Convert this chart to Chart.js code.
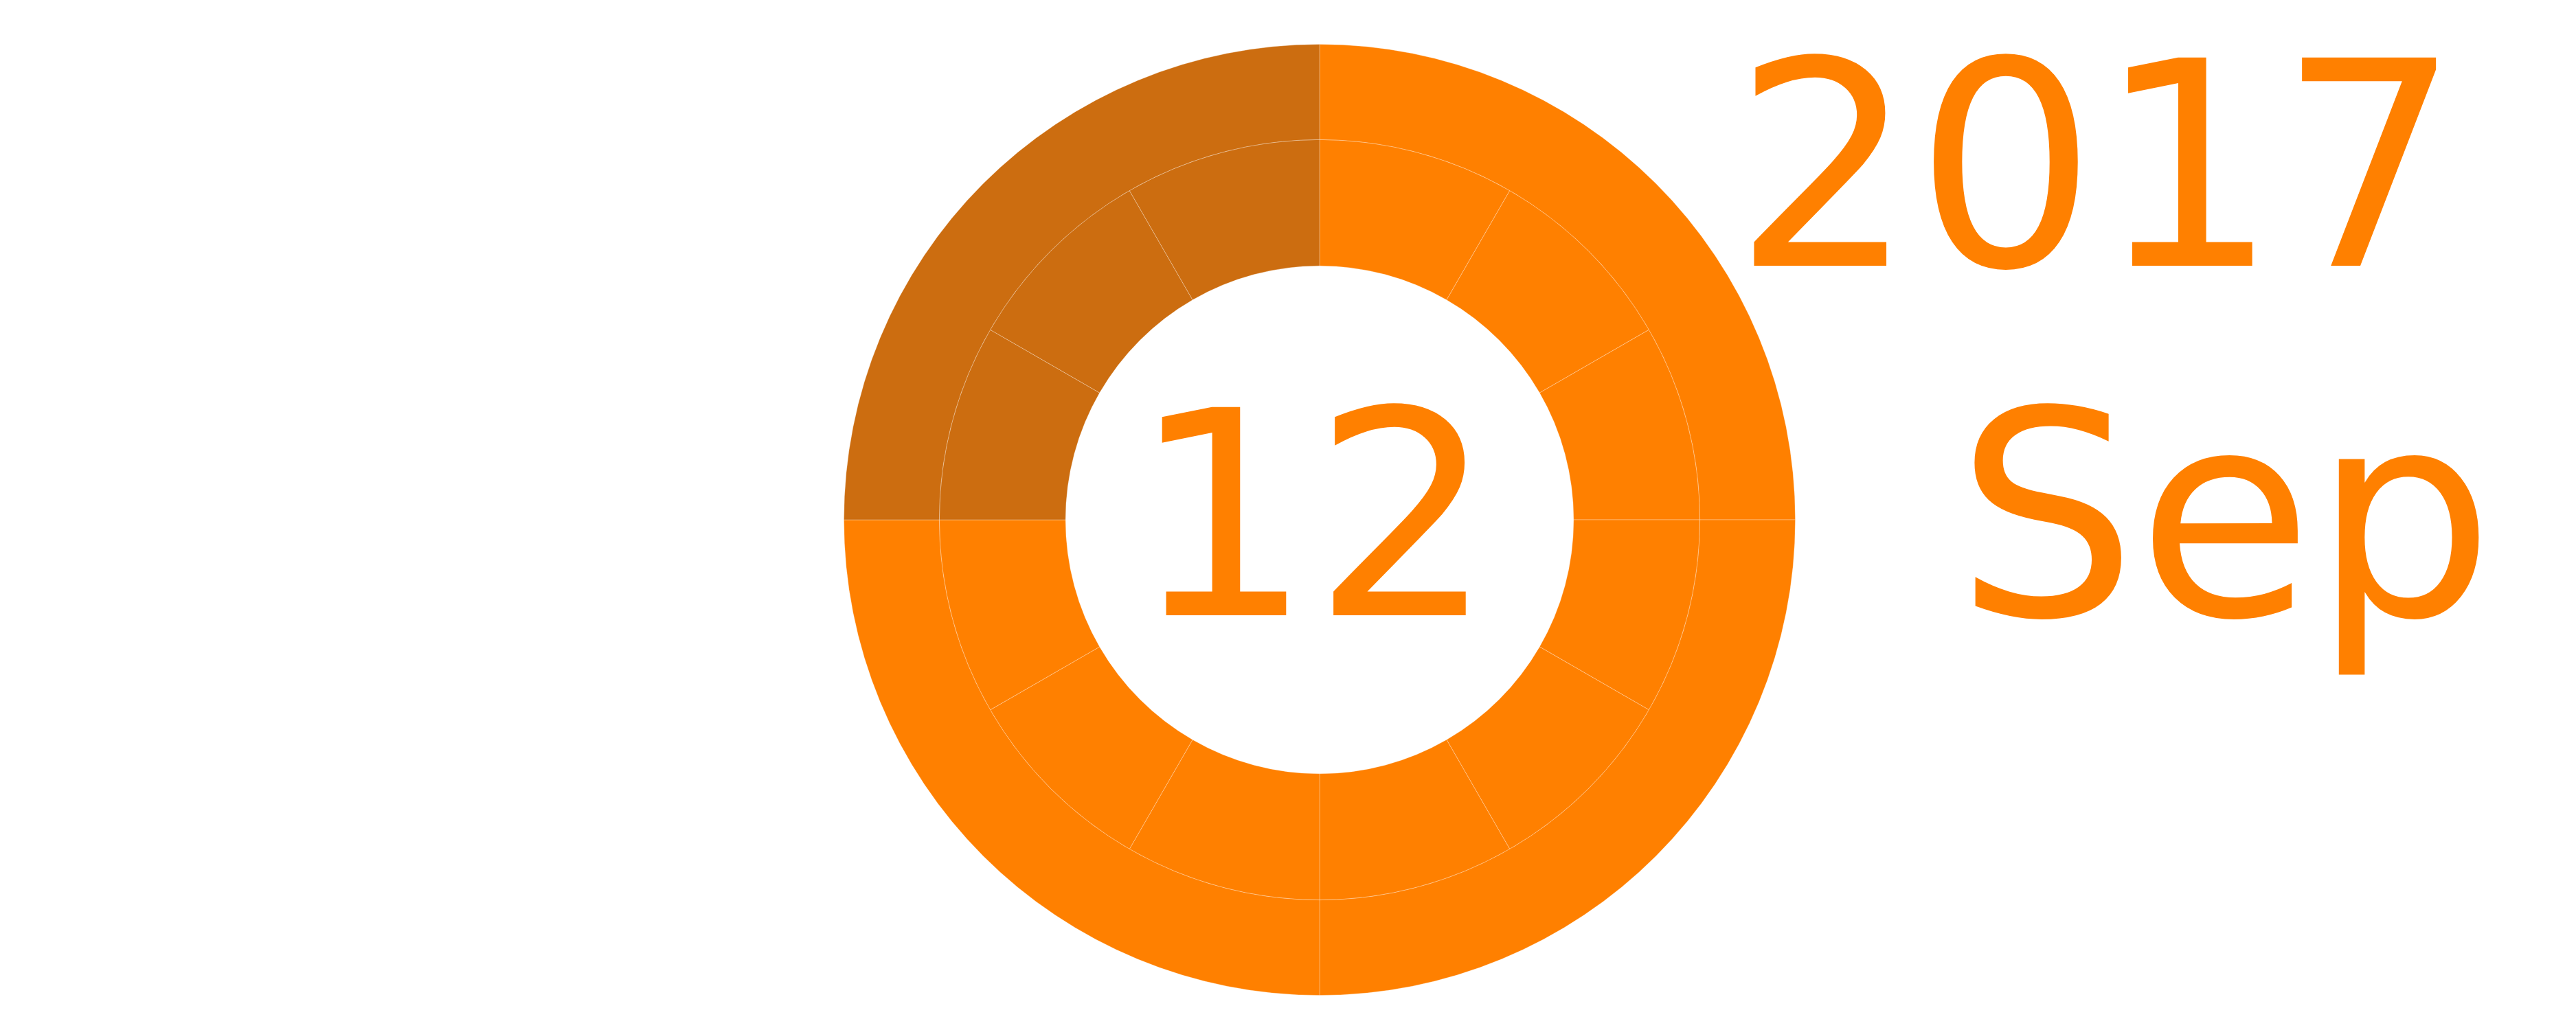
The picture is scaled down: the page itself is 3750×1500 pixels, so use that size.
<!DOCTYPE html>
<html>
<head>
<meta charset="utf-8">
<script src="https://cdn.jsdelivr.net/npm/chart.js@4.4.0/dist/chart.umd.min.js"></script>
<style>
  html, body { margin: 0; padding: 0; background: #ffffff; }
  #wrap { width: 3750px; height: 1500px; position: relative; }
</style>
</head>
<body>
<div id="wrap"><canvas id="c" width="3750" height="1500"></canvas></div>
<script>
// ---- data ----
const quarterLabels = ['Q1', 'Q2', 'Q3', 'Q4'];
const quarterValues = [1, 1, 1, 1];
const monthLabels = ['Jan', 'Feb', 'Mar', 'Apr', 'May', 'Jun', 'Jul', 'Aug', 'Sep', 'Oct', 'Nov', 'Dec'];
const monthValues = [1, 1, 1, 1, 1, 1, 1, 1, 1, 1, 1, 1];
const currentYear = '2017';
const currentMonth = 'Sep';
const currentDay = '12';

// ---- styles ----
const BRIGHT = '#ff8000';
const DARK = '#cc6d10';
const monthIndex = monthLabels.indexOf(currentMonth);
const quarterIndex = Math.floor(monthIndex / 3);
const quarterColors = quarterLabels.map((q, i) => i <= quarterIndex ? BRIGHT : DARK);
const monthColors = monthLabels.map((m, i) => i <= monthIndex ? BRIGHT : DARK);

const textPlugin = {
  id: 'dateText',
  afterDraw(chart) {
    const ctx = chart.ctx;
    ctx.save();
    ctx.fillStyle = BRIGHT;
    ctx.font = '416px "DejaVu Sans"';
    ctx.textAlign = 'left';
    ctx.textBaseline = 'alphabetic';
    ctx.fillText(currentDay, 1646, 896);
    ctx.fillText(currentYear, 2523, 387);
    ctx.fillText(currentMonth, 2847, 896);
    ctx.restore();
  }
};

new Chart(document.getElementById('c'), {
  type: 'doughnut',
  data: {
    labels: monthLabels,
    datasets: [
      {
        label: 'quarters',
        data: quarterValues,
        backgroundColor: quarterColors,
        borderColor: 'rgba(255,255,255,0.3)',
        borderWidth: 1,
        weight: 139,
        hoverOffset: 0,
        offset: 0
      },
      {
        label: 'months',
        data: monthValues,
        backgroundColor: monthColors,
        borderColor: 'rgba(255,255,255,0.3)',
        borderWidth: 1,
        weight: 184,
        hoverOffset: 0,
        offset: 0
      }
    ]
  },
  options: {
    responsive: false,
    maintainAspectRatio: false,
    animation: false,
    cutout: '53.4%',
    layout: { padding: { left: 1228, top: 64, right: 1136, bottom: 50 } },
    plugins: {
      legend: { display: false },
      tooltip: { enabled: false }
    },
    events: []
  },
  plugins: [textPlugin]
});
</script>
</body>
</html>
